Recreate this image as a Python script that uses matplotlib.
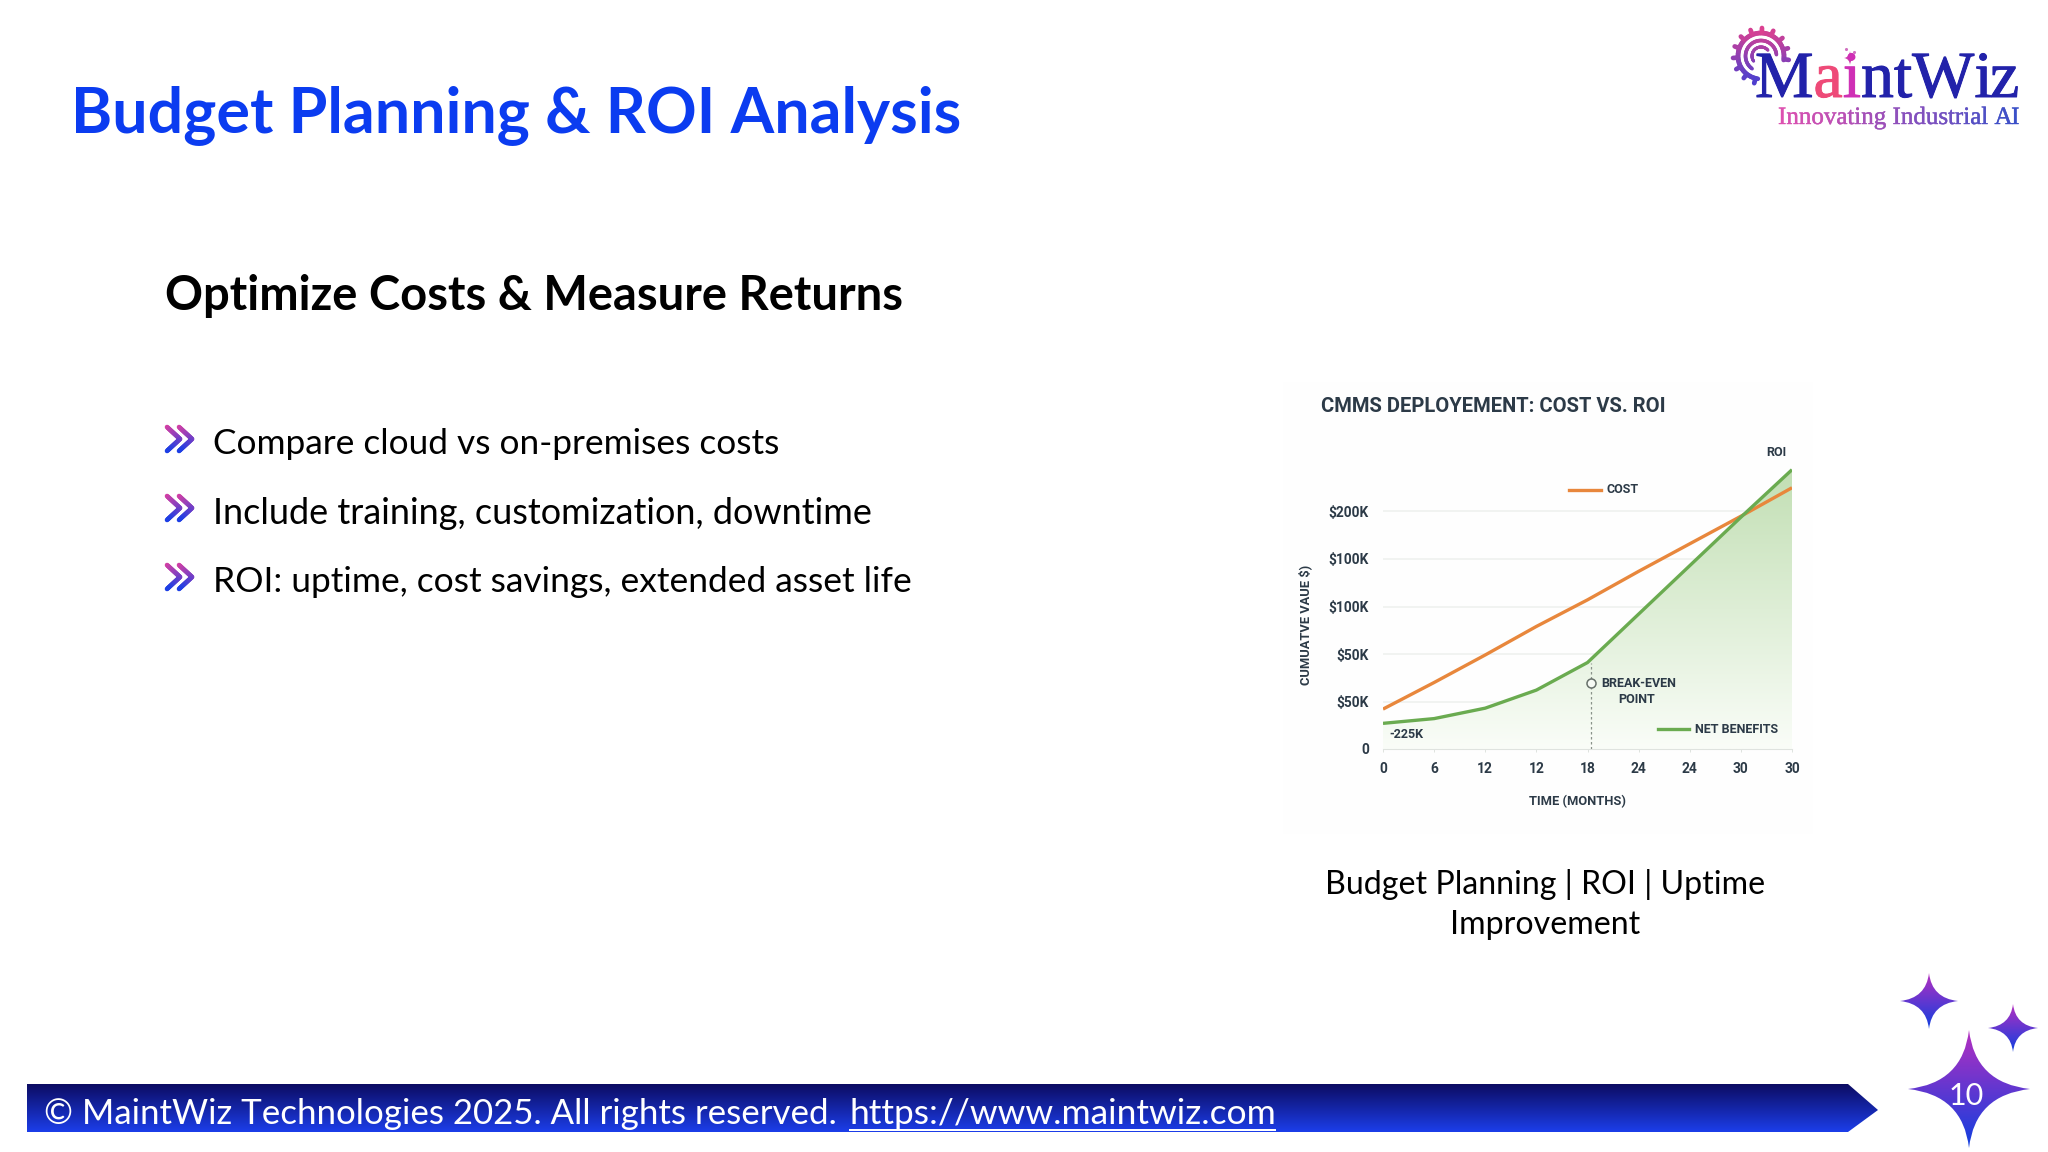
import numpy as np
import matplotlib
matplotlib.use("Agg")
import matplotlib.pyplot as plt
import matplotlib.patheffects as pe
from matplotlib.path import Path
from matplotlib.patches import PathPatch, Rectangle
from matplotlib.collections import LineCollection
from matplotlib.colors import to_rgb
from matplotlib.font_manager import FontProperties

# ---- chart data ----
positions = [0, 1, 2, 3, 4, 5, 6, 7, 8]
x_tick_labels = ["0", "6", "12", "12", "18", "24", "24", "30", "30"]
y_ticks = [0, 50, 100, 150, 200, 250]
y_tick_labels = ["0", "$50K", "$50K", "$100K", "$100K", "$200K"]
cost = [42, 70, 99, 129, 157, 187, 216, 245, 275]
net_benefits = [27, 32, 43, 62, 91, 142, 193, 244, 294]
breakeven_x = 4.06
breakeven_y = 69
breakeven_top = 91

# ---- slide text ----
slide_title = "Budget Planning & ROI Analysis"
subtitle = "Optimize Costs & Measure Returns"
bullets = ["Compare cloud vs on-premises costs",
           "Include training, customization, downtime",
           "ROI: uptime, cost savings, extended asset life"]
caption = ["Budget Planning | ROI | Uptime", "Improvement"]
footer_text = "© MaintWiz Technologies 2025. All rights reserved. "
footer_link = "https://www.maintwiz.com"

W, H = 2048, 1152
fig = plt.figure(figsize=(W / 100, H / 100), dpi=100, facecolor="white")
bg = fig.add_axes([0, 0, 1, 1], zorder=0)
bg.set_xlim(0, W)
bg.set_ylim(H, 0)
bg.axis("off")
bg.set_autoscale_on(False)
renderer = fig.canvas.get_renderer()
SLIDE = "Lato"
CHART = "Roboto"


def vgrad(ax, path, top, bottom, zorder=2):
    top, bottom = np.array(to_rgb(top)), np.array(to_rgb(bottom))
    e = path.get_extents()
    t = np.linspace(0, 1, 128)[:, None, None]
    img = top * (1 - t) + bottom * t
    im = ax.imshow(img, extent=(e.x0, e.x1, e.y1, e.y0), origin="upper",
                   aspect="auto", zorder=zorder, interpolation="bilinear")
    p = PathPatch(path, fc="none", ec="none", transform=ax.transData)
    ax.add_patch(p)
    im.set_clip_path(p)


def star(cx, cy, rx, ry, k=0.1):
    C = Path.CURVE3
    v = [(cx, cy - ry), (cx + k * rx, cy - k * ry), (cx + rx, cy),
         (cx + k * rx, cy + k * ry), (cx, cy + ry),
         (cx - k * rx, cy + k * ry), (cx - rx, cy),
         (cx - k * rx, cy - k * ry), (cx, cy - ry)]
    return Path(v, [Path.MOVETO, C, C, C, C, C, C, C, C])


def grad_line(ax, pts, col_fn, lw, zorder=3, n=24):
    pts = np.array(pts, float)
    segs, cols = [], []
    for a, b in zip(pts[:-1], pts[1:]):
        for i in range(n):
            p = a + (b - a) * i / n
            q = a + (b - a) * (i + 1) / n
            segs.append([p, q])
            cols.append(col_fn((p + q) / 2))
    ax.add_collection(LineCollection(segs, colors=cols, linewidths=lw,
                                     capstyle="round", zorder=zorder))


def mix(a, b, t):
    t = float(np.clip(t, 0, 1))
    return tuple(np.array(to_rgb(a)) * (1 - t) + np.array(to_rgb(b)) * t)


def adv(s, fp):
    return renderer.get_text_width_height_descent(s, fp, False)[0]


def letters(ax, s, x, y, family, size, col_fn, stroke=0.0):
    fp = FontProperties(family=family, size=size)
    for i, ch in enumerate(s):
        if ch != " ":
            c = col_fn(i, len(s))
            t = ax.text(x + adv(s[:i], fp), y, ch, fontproperties=fp,
                        color=c, va="baseline", ha="left", zorder=5)
            if stroke:
                t.set_path_effects([pe.withStroke(linewidth=stroke, foreground=c)])


# ---- slide texts ----
bg.text(71, 115, slide_title, family=SLIDE, weight="bold", fontsize=45.2,
        color="#0b3cf0", va="center", ha="left")
bg.text(165, 296, subtitle, family=SLIDE, weight="bold", fontsize=33.9,
        color="black", va="center", ha="left")
bullet_sizes = [25.4, 25.9, 25.45]
for i, b in enumerate(bullets):
    y = 444 + 69 * i
    bg.text(213, y, b, family=SLIDE, fontsize=bullet_sizes[i], color="black", va="center", ha="left")
    for dx in (0, 12):
        pts = [(167 + dx, y - 17), (180 + dx, y - 5), (167 + dx, y + 7)]
        grad_line(bg, pts, lambda p, y=y: mix("#d640a4", "#1b3fe6", (p[1] - (y - 17)) / 24), 3.3)

for i, c in enumerate(caption):
    bg.text(1545, 884 + 41 * i, c, family=SLIDE, fontsize=23.1, color="black", va="center", ha="center")

# ---- footer ----
vgrad(bg, Path([(27, 1084), (1848, 1084), (1878, 1110), (1848, 1132), (27, 1132), (27, 1084)]),
      "#0c0c62", "#1c3eea")
fp_footer = FontProperties(family=SLIDE, size=25.1)
fp_link = FontProperties(family=SLIDE, size=25.45)
bg.text(44, 1124, footer_text, fontproperties=fp_footer, color="white", va="baseline", zorder=4)
lx = 849
bg.text(lx, 1124, footer_link, fontproperties=fp_link, color="white", va="baseline", zorder=4)
bg.add_patch(Rectangle((lx, 1129), adv(footer_link, fp_link), 2, fc="white", ec="none", zorder=4))

# ---- stars ----
for cx, cy, rx, ry in [(1929, 1001, 29, 28), (2013, 1028, 25, 24), (1969, 1089, 61, 59)]:
    vgrad(bg, star(cx, cy, rx, ry), "#b52fc0", "#0f3fe0")
bg.text(1966, 1096, "10", family=SLIDE, fontsize=22, color="white", va="center", ha="center", zorder=5)

# ---- logo ----
gear_c = np.array([1761.0, 56.0])
def gear_col(p):
    return mix("#e0408f", "#4a3fd0", (p[1] - 28) / 55)
for r, a0, a1, lw in [(23, -10, 262, 3.4), (15.5, 5, 235, 2.6), (9, 40, 215, 2.2)]:
    ang = np.radians(np.linspace(a0, a1, 60))
    pts = np.c_[gear_c[0] + r * np.cos(ang), gear_c[1] - r * np.sin(ang)]
    grad_line(bg, pts, gear_col, lw, n=1)
for a in np.arange(-8, 265, 24.0):
    d = np.array([np.cos(np.radians(a)), -np.sin(np.radians(a))])
    grad_line(bg, [gear_c + 24 * d, gear_c + 28 * d], gear_col, 3.4, n=1)

def logo_col(i, n):
    return {1: "#ee4a78", 2: "#cf2fb5"}.get(i, "#2222aa")
letters(bg, "MaintWiz", 1755, 97, "Liberation Serif", 47.4, logo_col, stroke=0.7)
letters(bg, "Innovating Industrial AI", 1778, 124, "Liberation Serif", 18,
        lambda i, n: mix("#dd50b0", "#3a50c8", i / (n - 1)), stroke=0.3)
vgrad(bg, star(1850, 58, 6, 7), "#d03fb0", "#d03fb0")
bg.scatter([1846, 1854], [49, 52], s=5, color="#d070c0", zorder=5, linewidths=0)

# ---- chart panel ----
bg.add_patch(Rectangle((1283, 382), 530, 452, fc="#fefefe", ec="none", zorder=1))
bg.text(1321, 407, "CMMS DEPLOYEMENT: COST VS. ROI", family=CHART, weight="bold", fontsize=14.5,
        color="#2c3a47", va="center", ha="left", zorder=5)

ax_left, ax_right, ax_top, ax_bottom = 1383, 1792, 464, 749
ax = fig.add_axes([ax_left / W, 1 - ax_bottom / H, (ax_right - ax_left) / W, (ax_bottom - ax_top) / H],
                  zorder=2)
ax.patch.set_alpha(0)
ax.set_xlim(0, 8)
ax.set_ylim(0, 300)
ax.set_autoscale_on(False)
ax.set_xticks(positions, x_tick_labels)
ax.set_yticks(y_ticks, y_tick_labels)
for s in ("top", "right", "left"):
    ax.spines[s].set_visible(False)
ax.spines["bottom"].set_color("#dfe3df")
ax.spines["bottom"].set_linewidth(0.8)
ax.tick_params(axis="x", length=2.5, width=0.7, color="#dfe3df", pad=7, labelcolor="#2c3a47")
ax.tick_params(axis="y", length=0, pad=10, labelcolor="#2c3a47")
for t in ax.get_xticklabels() + ax.get_yticklabels():
    t.set_family(CHART)
    t.set_weight("bold")
    t.set_fontsize(9.9)
ax.grid(axis="y", color="#eef0ee", linewidth=1.1, zorder=0)
ax.set_axisbelow(True)

# gradient under net benefits
grad = np.linspace(0, 1, 256)[:, None, None]
top_c, bot_c = np.array(to_rgb("#c2dfb4")), np.array(to_rgb("#fafdf8"))
img = top_c * (1 - grad) + bot_c * grad
im = ax.imshow(img, extent=(0, 8, 0, max(net_benefits)), origin="upper", aspect="auto",
               zorder=1, interpolation="bilinear")
poly = ax.fill_between(positions, 0, net_benefits, facecolor="none", edgecolor="none")
clip = PathPatch(poly.get_paths()[0], transform=ax.transData, fc="none", ec="none")
ax.add_patch(clip)
im.set_clip_path(clip)

ORANGE, GREEN = "#e8873c", "#6aab50"
ax.plot(positions, cost, color=ORANGE, lw=2.4, zorder=3, solid_capstyle="butt")
ax.plot(positions, net_benefits, color=GREEN, lw=2.4, zorder=4, solid_capstyle="butt")
ax.plot([breakeven_x, breakeven_x], [0, breakeven_top], color="#8a938a", lw=0.9,
        ls=(0, (2, 2)), zorder=3)
ax.plot([breakeven_x], [breakeven_y], "o", ms=6.5, mfc="#f6faf4", mec="#67706a", mew=1.1, zorder=5)

tkw = dict(family=CHART, weight="bold", color="#2c3a47", fontsize=9.0, va="center", clip_on=False)
ax.plot([3.63, 4.26], [273, 273], color=ORANGE, lw=2.4, zorder=4)
ax.text(4.37, 273, "COST", ha="left", **tkw)
ax.plot([5.37, 5.99], [21, 21], color=GREEN, lw=2.4, zorder=4)
ax.text(6.10, 21, "NET BENEFITS", ha="left", **tkw)
ax.text(7.69, 312, "ROI", ha="center", **tkw)
ax.text(4.26, 69, "BREAK-EVEN", ha="left", **tkw)
ax.text(4.96, 52.5, "POINT", ha="center", **tkw)
ax.text(0.12, 15.4, "-225K", ha="left", **tkw)

ax.set_xlabel("TIME (MONTHS)", family=CHART, weight="bold", fontsize=9.3, color="#2c3a47", va="center")
ax.xaxis.set_label_coords(0.476, -0.185)
ax.set_ylabel("CUMUATVE VAUE $)", family=CHART, weight="bold", fontsize=9.3, color="#2c3a47", va="center")
ax.yaxis.set_label_coords(-0.19, 0.436)

fig.savefig("out.png", dpi=100)
